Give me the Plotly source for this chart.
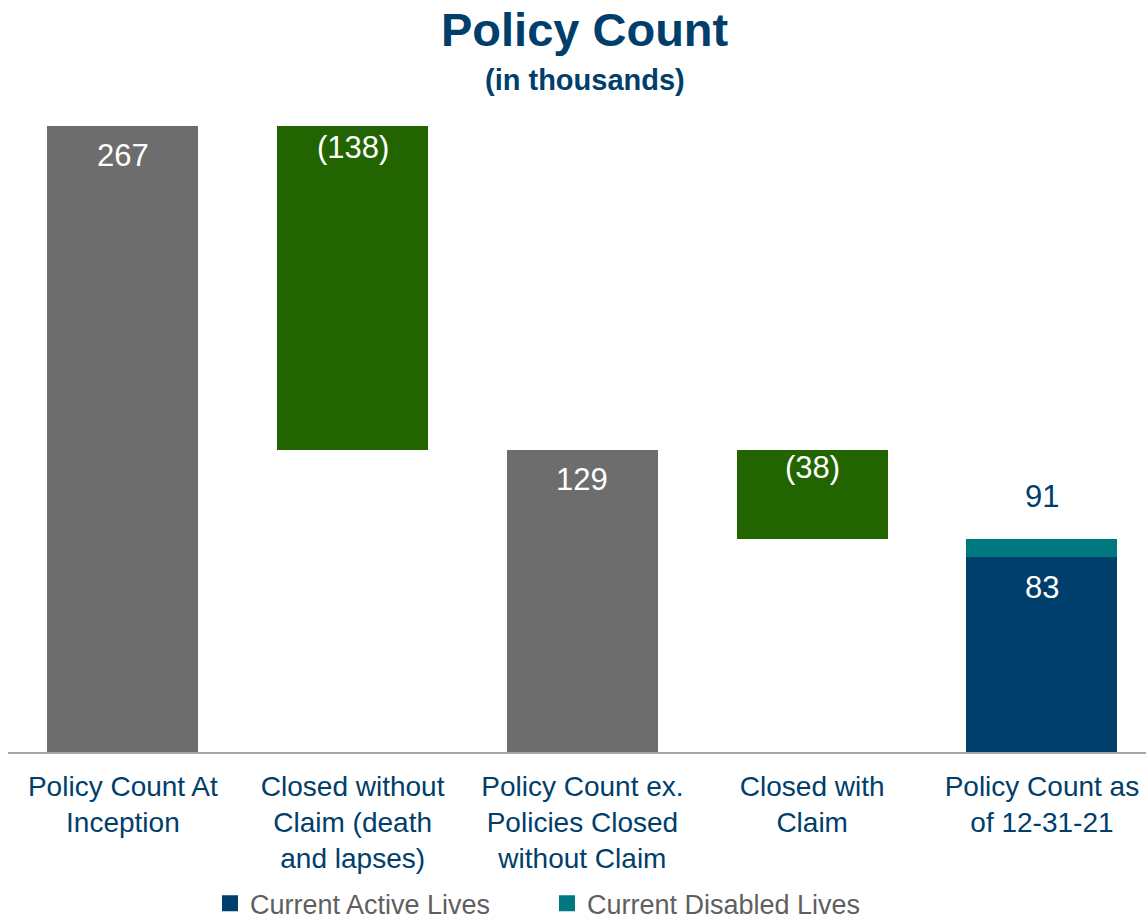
import plotly.graph_objects as go

# ---- data ----
categories = [
    "Policy Count At<br>Inception",
    "Closed without<br>Claim (death<br>and lapses)",
    "Policy Count ex.<br>Policies Closed<br>without Claim",
    "Closed with<br>Claim",
    "Policy Count as<br>of 12-31-21",
]
inception = 267
closed_without_claim = -138
ex_closed = 129
closed_with_claim = -38
active_lives = 83
disabled_lives = 8
total_end = 91

x_idx = [0, 1, 2, 3, 4]

NAVY = "#003e6b"
TEAL = "#00787f"
GRAY = "#6d6d6d"
GREEN = "#226400"
WIDTH = 0.657
FONT = "Liberation Sans, Arial"

fig = go.Figure()

# totals (gray)
fig.add_trace(go.Bar(
    x=[x_idx[0], x_idx[2]], y=[inception, ex_closed], base=[0, 0],
    marker_color=GRAY, marker_line_width=0, width=WIDTH, showlegend=False, hoverinfo="skip"))

# decreases (green, floating)
fig.add_trace(go.Bar(
    x=[x_idx[1], x_idx[3]],
    y=[-closed_without_claim, -closed_with_claim],
    base=[inception + closed_without_claim, ex_closed + closed_with_claim],
    marker_color=GREEN, marker_line_width=0, width=WIDTH, showlegend=False, hoverinfo="skip"))

# final stacked
fig.add_trace(go.Bar(
    x=[x_idx[4]], y=[active_lives], base=[0],
    marker_color=NAVY, marker_line_width=0, width=WIDTH, showlegend=False, hoverinfo="skip"))
fig.add_trace(go.Bar(
    x=[x_idx[4]], y=[disabled_lives], base=[active_lives],
    marker_color=TEAL, marker_line_width=0, width=WIDTH, showlegend=False, hoverinfo="skip"))

# legend entries
fig.add_trace(go.Scatter(x=[None], y=[None], mode="markers", name="Current Active Lives",
                         marker=dict(symbol="square", size=24, color=NAVY)))
fig.add_trace(go.Scatter(x=[None], y=[None], mode="markers", name="Current Disabled Lives",
                         marker=dict(symbol="square", size=24, color=TEAL)))

def fmt(v):
    return f"({abs(v)})" if v < 0 else f"{v}"

labels = [
    (x_idx[0], inception, fmt(inception), -10),
    (x_idx[1], inception, fmt(closed_without_claim), -2),
    (x_idx[2], ex_closed, fmt(ex_closed), -10),
    (x_idx[3], ex_closed, fmt(closed_with_claim), 2),
    (x_idx[4], active_lives, fmt(active_lives), -11),
]
for x, y, t, ys in labels:
    fig.add_annotation(x=x, y=y, text=t, showarrow=False, yanchor="top", yshift=ys,
                       font=dict(size=31, color="white", family=FONT))
fig.add_annotation(x=x_idx[4], y=total_end, text=fmt(total_end), showarrow=False,
                   yanchor="bottom", yshift=23,
                   font=dict(size=31, color=NAVY, family=FONT))

# titles
fig.add_annotation(xref="paper", yref="paper", x=0.507, y=1.142, yanchor="middle",
                   text="<b>Policy Count</b>", showarrow=False,
                   font=dict(size=47, color=NAVY, family=FONT))
fig.add_annotation(xref="paper", yref="paper", x=0.507, y=1.0616, yanchor="middle",
                   text="<b>(in thousands)</b>", showarrow=False,
                   font=dict(size=29, color=NAVY, family=FONT))

fig.update_layout(
    width=1146, height=920,
    margin=dict(l=8, r=0, t=119, b=168, autoexpand=False),
    paper_bgcolor="white", plot_bgcolor="white",
    barmode="overlay", bargap=0,
    font=dict(family=FONT, color=NAVY),
    xaxis=dict(
        tickmode="array", tickvals=x_idx, ticktext=categories,
        range=[-0.5, 4.453], showgrid=False, zeroline=False, automargin=False,
        showline=True, linecolor="#a6a6a6", linewidth=2,
        ticks="", ticklabelstandoff=8,
        tickfont=dict(size=28, color=NAVY), fixedrange=True),
    yaxis=dict(range=[0, 270], visible=False, fixedrange=True, automargin=False),
    legend=dict(orientation="h", x=0.1775, xanchor="left", y=-0.201, yanchor="top",
                font=dict(size=27, color="#5f5f5f"), itemsizing="trace",
                entrywidth=292, entrywidthmode="pixels"),
)

fig.write_html("out.html")
